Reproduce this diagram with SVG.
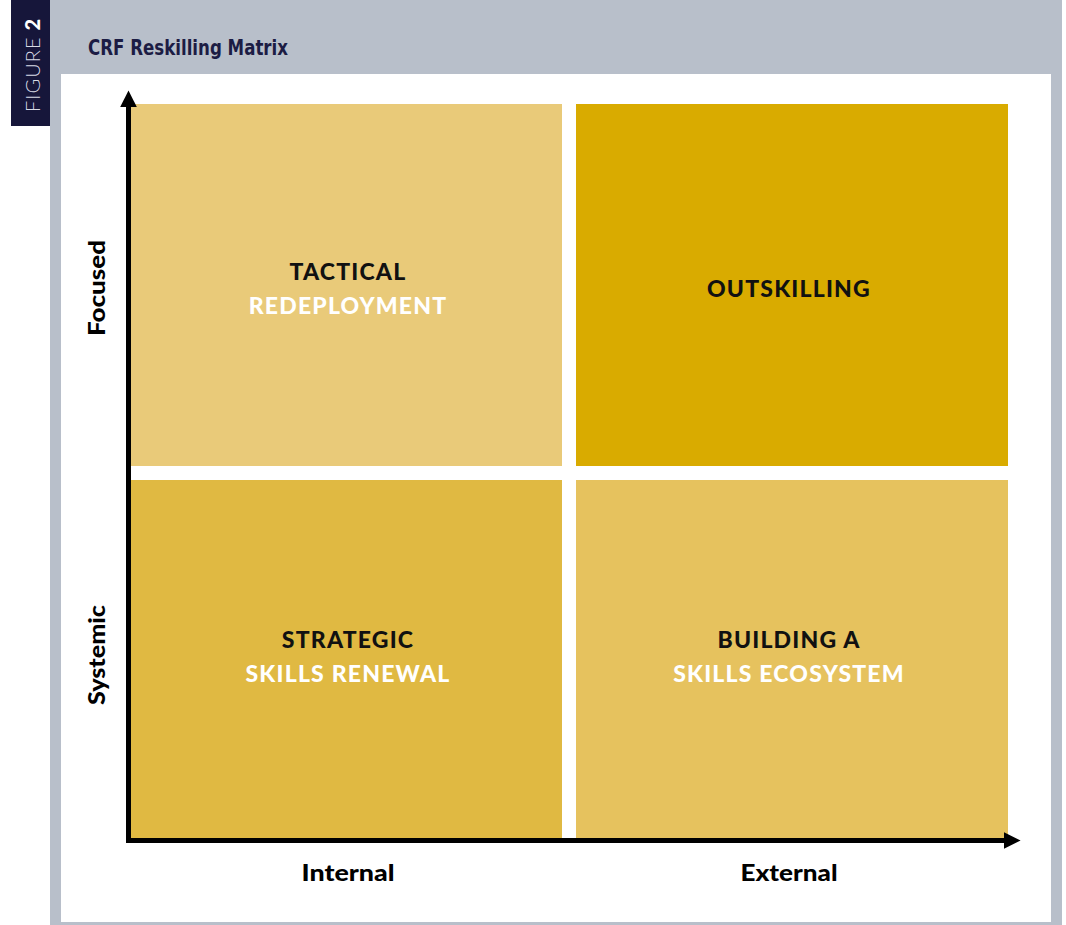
<svg xmlns="http://www.w3.org/2000/svg" width="1066" height="925" viewBox="0 0 1066 925">
  <style>
    .quad-title { font-family: Lato, "Noto Sans", sans-serif; font-weight: 900; font-size: 23px; letter-spacing: 1.2px; text-anchor: middle; }
    .dark { fill: #111111; }
    .light { fill: #ffffff; }
    .axis-label { font-family: Lato, "Noto Sans", sans-serif; font-weight: 900; font-size: 22px; fill: #000000; text-anchor: middle; }
    .axis { stroke: #000000; stroke-width: 5; fill: none; }
  </style>
  <defs>
    <marker id="arrow" viewBox="0 0 10 10" refX="2" refY="5" markerWidth="3.4" markerHeight="3.4" orient="auto" markerUnits="strokeWidth">
      <path d="M0,0 L10,5 L0,10 Z" fill="#000000"/>
    </marker>
  </defs>

  <!-- frame -->
  <rect x="0" y="0" width="1066" height="925" fill="#ffffff"/>
  <rect x="50" y="0" width="1012" height="925" fill="#b8bfca"/>
  <rect x="61" y="74" width="990" height="848" fill="#ffffff"/>

  <!-- figure tab -->
  <g id="figure-tab">
    <rect x="11" y="0" width="39" height="126" fill="#16163a"/>
    <text transform="translate(40,112) rotate(-90)" font-family="Lato, 'Noto Sans', sans-serif" font-size="20" fill="#d8dbe6"><tspan font-weight="300" letter-spacing="1">FIGURE</tspan><tspan font-weight="900" fill="#ffffff" dx="6">2</tspan></text>
  </g>

  <g id="title">
    <text x="88" y="55" font-family="'DejaVu Sans Condensed', 'DejaVu Sans', sans-serif" font-weight="bold" font-size="21" fill="#1c1c44" textLength="200" lengthAdjust="spacingAndGlyphs">CRF Reskilling Matrix</text>
  </g>

  <!-- quadrants -->
  <g id="tactical-redeployment">
    <rect x="131" y="104" width="431" height="362" fill="#e9ca79"/>
    <text class="quad-title dark" x="348" y="280">TACTICAL</text>
    <text class="quad-title light" x="348" y="314">REDEPLOYMENT</text>
  </g>
  <g id="outskilling">
    <rect x="576" y="104" width="432" height="362" fill="#d9ab00"/>
    <text class="quad-title dark" x="789" y="297">OUTSKILLING</text>
  </g>
  <g id="strategic-skills-renewal">
    <rect x="131" y="480" width="431" height="358" fill="#e0b942"/>
    <text class="quad-title dark" x="348" y="648">STRATEGIC</text>
    <text class="quad-title light" x="348" y="682">SKILLS RENEWAL</text>
  </g>
  <g id="building-skills-ecosystem">
    <rect x="576" y="480" width="432" height="358" fill="#e6c25e"/>
    <text class="quad-title dark" x="789" y="648">BUILDING A</text>
    <text class="quad-title light" x="789" y="682">SKILLS ECOSYSTEM</text>
  </g>

  <!-- axes -->
  <g id="connectors">
    <line class="axis" x1="128.5" y1="843" x2="128.5" y2="104" marker-end="url(#arrow)"/>
    <line class="axis" x1="126" y1="840.5" x2="1007" y2="840.5" marker-end="url(#arrow)"/>
  </g>

  <!-- axis labels -->
  <g id="axis-labels">
    <text class="axis-label" transform="translate(105,288) rotate(-90)" textLength="96" lengthAdjust="spacingAndGlyphs">Focused</text>
    <text class="axis-label" transform="translate(105,655) rotate(-90)" textLength="100" lengthAdjust="spacingAndGlyphs">Systemic</text>
    <text class="axis-label" x="348" y="881" textLength="93" lengthAdjust="spacingAndGlyphs">Internal</text>
    <text class="axis-label" x="789" y="881" textLength="97" lengthAdjust="spacingAndGlyphs">External</text>
  </g>
</svg>
